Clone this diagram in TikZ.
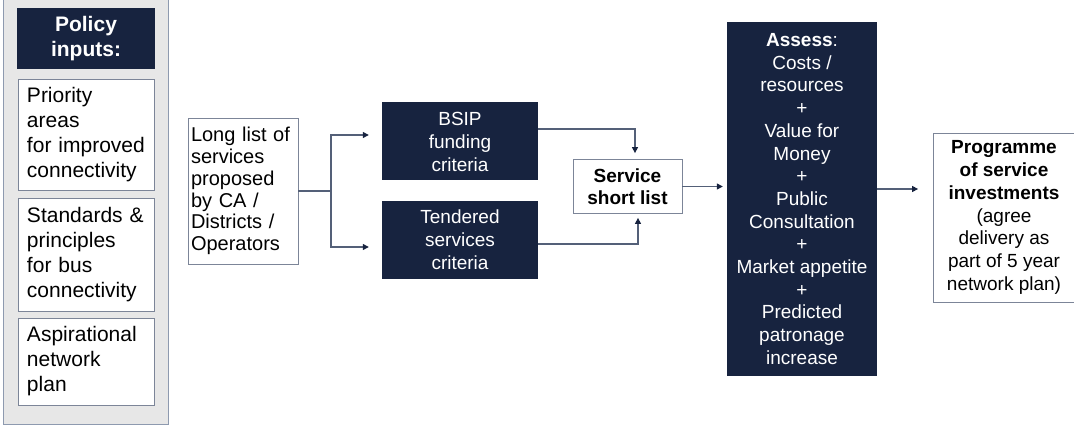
\documentclass[tikz,border=0pt]{standalone}
\usepackage{fontspec}
\setmainfont{Liberation Sans}
\usetikzlibrary{arrows.meta}
\definecolor{navy}{RGB}{23,35,63}
\definecolor{panelgray}{RGB}{231,231,231}
\definecolor{panelline}{RGB}{142,154,175}
\definecolor{boxline}{RGB}{124,133,152}
\definecolor{connline}{RGB}{84,96,120}
\tikzset{
  panel/.style={fill=panelgray, draw=panelline, line width=1pt},
  headbox/.style={fill=navy, text=white, inner sep=0pt, align=center},
  inbox/.style={fill=white, draw=boxline, line width=0.8pt, align=left,
    inner ysep=0pt, font=\fontsize{21}{25}\selectfont},
  outbox/.style={fill=white, draw=boxline, line width=0.8pt, align=center,
    inner sep=0pt, font=\fontsize{19}{22.7}\selectfont},
  conn/.style={draw=connline, line width=1.3pt},
  flow/.style={conn, -{Triangle[length=6pt,width=6pt,color=navy]}}
}
\begin{document}
\begin{tikzpicture}[x=1pt,y=-1pt]
\useasboundingbox (0,0) rectangle (1074,425);
% policy inputs panel
\draw[panel] (3,-5) rectangle (168,424);
\node[headbox, minimum width=138pt, minimum height=61pt,
  font=\bfseries\fontsize{21}{25}\selectfont] (policy) at (86,38.5) {Policy\\inputs:};
\node[inbox, text width=118pt, inner xsep=9pt, minimum height=111pt] (prio) at (86,134.5)
  {Priority\\areas\\for improved\\connectivity};
\node[inbox, text width=118pt, inner xsep=9pt, minimum height=113pt] (stand) at (86,254.5)
  {Standards \&\\principles\\for bus\\connectivity};
\node[inbox, text width=118pt, inner xsep=9pt, minimum height=87pt] (aspir) at (86,361.5)
  {Aspirational\\network\\plan};
% flow
\node[inbox, text width=104pt, inner xsep=3pt, minimum height=146pt,
  font=\fontsize{20}{21.7}\selectfont] (longlist) at (243,191)
  {Long list of\\services\\proposed\\by CA /\\Districts /\\Operators};
\node[headbox, minimum width=156pt, minimum height=78pt,
  font=\fontsize{19}{23}\selectfont] (bsip) at (460,141.5) {BSIP\\funding\\criteria};
\node[headbox, minimum width=156pt, minimum height=78pt,
  font=\fontsize{19}{23}\selectfont] (tender) at (460,240) {Tendered\\services\\criteria};
\node[outbox, minimum width=109pt, minimum height=54pt,
  font=\bfseries\fontsize{19}{22}\selectfont] (short) at (627.5,186.5) {Service\\short list};
\node[headbox, minimum width=150pt, minimum height=354pt,
  font=\fontsize{19}{22.7}\selectfont] (assess) at (802,199)
  {\textbf{Assess}:\\Costs /\\resources\\+\\Value for\\Money\\+\\Public\\Consultation\\+\\Market appetite\\+\\Predicted\\patronage\\increase};
\node[outbox, minimum width=141pt, minimum height=169pt] (prog) at (1004,217.5)
  {\textbf{Programme}\\\textbf{of service}\\\textbf{investments}\\(agree\\delivery as\\part of 5 year\\network plan)};
% connectors
\coordinate (split) at (331,191);
\draw[conn] (longlist.east) -- (split);
\draw[flow, shorten >=13pt] (split) |- ([yshift=6.5pt]bsip.west);
\draw[flow, shorten >=13pt] (split) |- ([yshift=-7pt]tender.west);
\draw[flow, shorten >=6pt] ([yshift=12.5pt]bsip.east) -| ([xshift=7.5pt]short.north);
\draw[flow, shorten >=4pt] ([yshift=-4pt]tender.east) -| ([xshift=10.5pt]short.south);
\draw[flow, shorten >=4pt] (short.east) -- (short.east -| assess.west);
\coordinate (aout) at ([yshift=10pt]assess.east);
\draw[flow, shorten >=15pt] (aout) -- (aout -| prog.west);
\end{tikzpicture}
\end{document}
